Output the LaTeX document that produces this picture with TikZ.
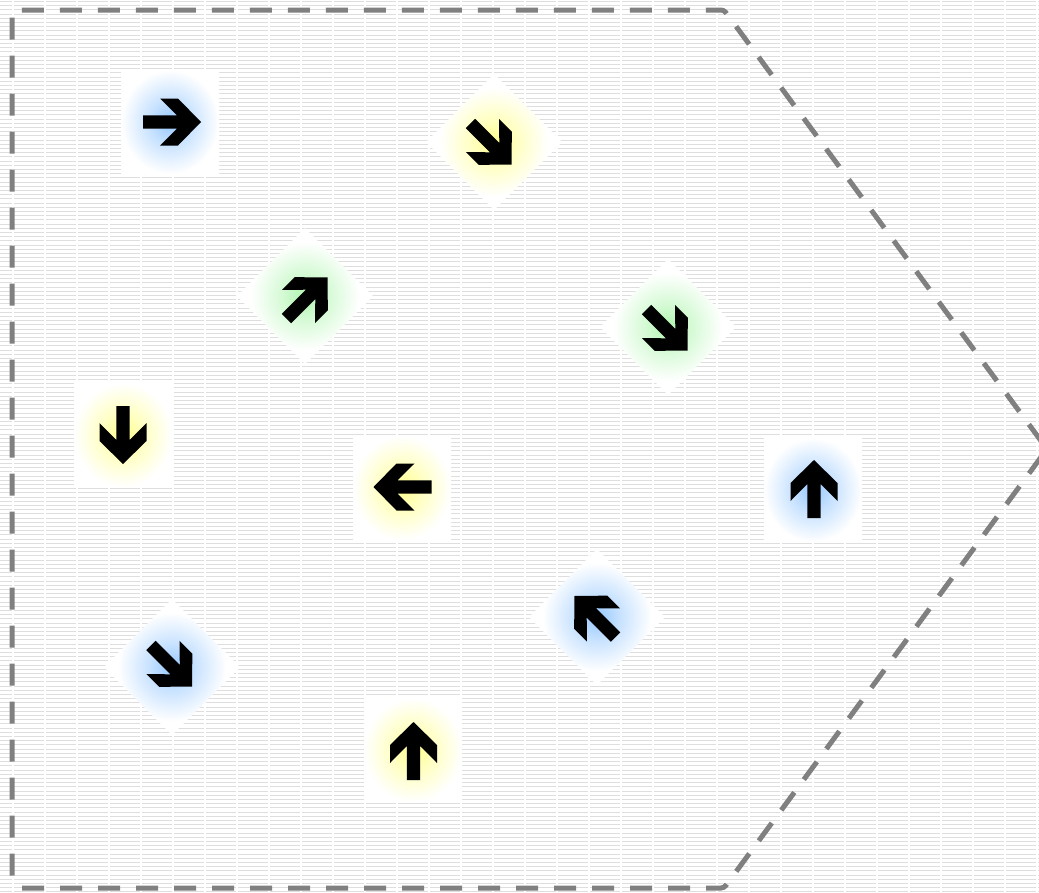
\documentclass[tikz,border=0pt]{standalone}
\definecolor{gblue}{RGB}{150,200,255}
\definecolor{gyellow}{RGB}{255,255,140}
\definecolor{ggreen}{RGB}{175,245,175}
\definecolor{outlinegray}{RGB}{128,128,128}
\definecolor{stripegray}{RGB}{222,222,222}
\colorlet{gbluemid}{gblue!55!white}
\colorlet{gyellowmid}{gyellow!55!white}
\colorlet{ggreenmid}{ggreen!55!white}
\pgfdeclareradialshading{sqblue}{\pgfpoint{0bp}{0bp}}{color(0bp)=(gblue); color(10bp)=(gbluemid); color(25bp)=(white); color(50bp)=(white)}
\pgfdeclareradialshading{sqyellow}{\pgfpoint{0bp}{0bp}}{color(0bp)=(gyellow); color(10bp)=(gyellowmid); color(25bp)=(white); color(50bp)=(white)}
\pgfdeclareradialshading{dmblue}{\pgfpoint{0bp}{0bp}}{color(0bp)=(gblue); color(8bp)=(gbluemid); color(20bp)=(white); color(50bp)=(white)}
\pgfdeclareradialshading{dmyellow}{\pgfpoint{0bp}{0bp}}{color(0bp)=(gyellow); color(8bp)=(gyellowmid); color(20bp)=(white); color(50bp)=(white)}
\pgfdeclareradialshading{dmgreen}{\pgfpoint{0bp}{0bp}}{color(0bp)=(ggreen); color(8bp)=(ggreenmid); color(20bp)=(white); color(50bp)=(white)}
\tikzset{
  stripe/.style={draw=stripegray, line width=1pt, dash pattern=on 30pt off 2pt, dash phase=18pt},
  outline/.style={draw=outlinegray, line width=5pt, dash pattern=on 22pt off 16pt, dash phase=28.5pt, rounded corners=3pt},
  arrowglyph/.pic={\fill[black] (29,0) -- (6,23.5) -- (-12,23.5) -- (5,6.7) -- (-29,6.7) -- (-29,-6.7) -- (5,-6.7) -- (-12,-23.5) -- (6,-23.5) -- cycle;},
  pics/sqtile/.style={code={\path[shading=#1] (-49,-52) rectangle (49,52);}},
  pics/dmtile/.style={code={\path[shading=#1] (0,-68) -- (68,0) -- (0,68) -- (-68,0) -- cycle;}},
}
\begin{document}
\begin{tikzpicture}[x=1pt,y=-1pt]
\useasboundingbox (0,0) rectangle (1039,892);
\fill[white] (0,0) rectangle (1039,892);
% striped background
\foreach \i in {0,...,212} {
  \draw[stripe] (0,{\i*4.2+1.5}) -- (1039,{\i*4.2+1.5});
}
% dashed outline
\draw[outline] (12,888) -- (12,10) -- (724,10) -- (1047,449) -- (724,888) -- cycle;
% tiles
\pic at (170,122) {sqtile=sqblue};
\pic at (494,142) {dmtile=dmyellow};
\pic at (305,296) {dmtile=dmgreen};
\pic at (668,327) {dmtile=dmgreen};
\pic at (123,435) {sqtile=sqyellow};
\pic at (402,488) {sqtile=sqyellow};
\pic at (813,490) {sqtile=sqblue};
\pic at (597,617) {dmtile=dmblue};
\pic at (172,667) {dmtile=dmblue};
\pic at (413,750) {sqtile=sqyellow};
% arrows
\pic[rotate=0] at (172,122) {arrowglyph};
\pic[rotate=-45] at (491,144) {arrowglyph};
\pic[rotate=45] at (307,298) {arrowglyph};
\pic[rotate=-45] at (667,330) {arrowglyph};
\pic[rotate=-90] at (123,435) {arrowglyph};
\pic[rotate=180] at (402.5,487) {arrowglyph};
\pic[rotate=90] at (814,489) {arrowglyph};
\pic[rotate=135] at (595,616.5) {arrowglyph};
\pic[rotate=-45] at (171.5,666) {arrowglyph};
\pic[rotate=90] at (413.5,751) {arrowglyph};
\end{tikzpicture}
\end{document}
